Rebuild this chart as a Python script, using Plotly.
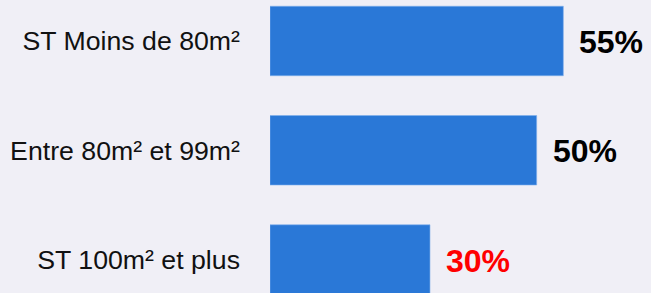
import plotly.graph_objects as go

categories = ["ST Moins de 80m²", "Entre 80m² et 99m²", "ST 100m² et plus"]
values = [55, 50, 30]
value_labels = ["55%", "50%", "30%"]
value_colors = ["#000000", "#000000", "#ff0000"]

BG = "#f0eff6"
BAR = "#2a78d7"

fig = go.Figure()
fig.add_trace(go.Bar(
    y=categories, x=values, orientation="h",
    marker=dict(color=BAR, line=dict(color="#7fb0ec", width=0.6)),
    width=0.636, hoverinfo="skip", showlegend=False,
))

for c, v, t, col in zip(categories, values, value_labels, value_colors):
    fig.add_annotation(x=v, y=c, text="<b>%s</b>" % t, showarrow=False,
                       xanchor="left", yanchor="middle", xshift=14, yshift=-1,
                       font=dict(family="Liberation Sans, Arial, sans-serif", size=32, color=col))

fig.update_layout(
    width=651, height=293,
    margin=dict(l=270, r=0, t=0, b=0, pad=0),
    paper_bgcolor=BG, plot_bgcolor=BG,
    xaxis=dict(range=[0, 71.44], visible=False, fixedrange=True),
    yaxis=dict(range=[2.306, -0.375], showgrid=False, zeroline=False, showline=False,
               ticks="", ticklabelstandoff=29, automargin=False, fixedrange=True,
               tickfont=dict(family="Liberation Sans, Arial, sans-serif", size=26.7, color="#111111")),
    font=dict(family="Liberation Sans, Arial, sans-serif"),
    hovermode=False,
)

fig.write_html("out.html", config={"displayModeBar": False, "staticPlot": True},
               post_script="document.body.style.margin='0';document.body.style.overflow='hidden';document.body.style.background='%s';" % BG)
